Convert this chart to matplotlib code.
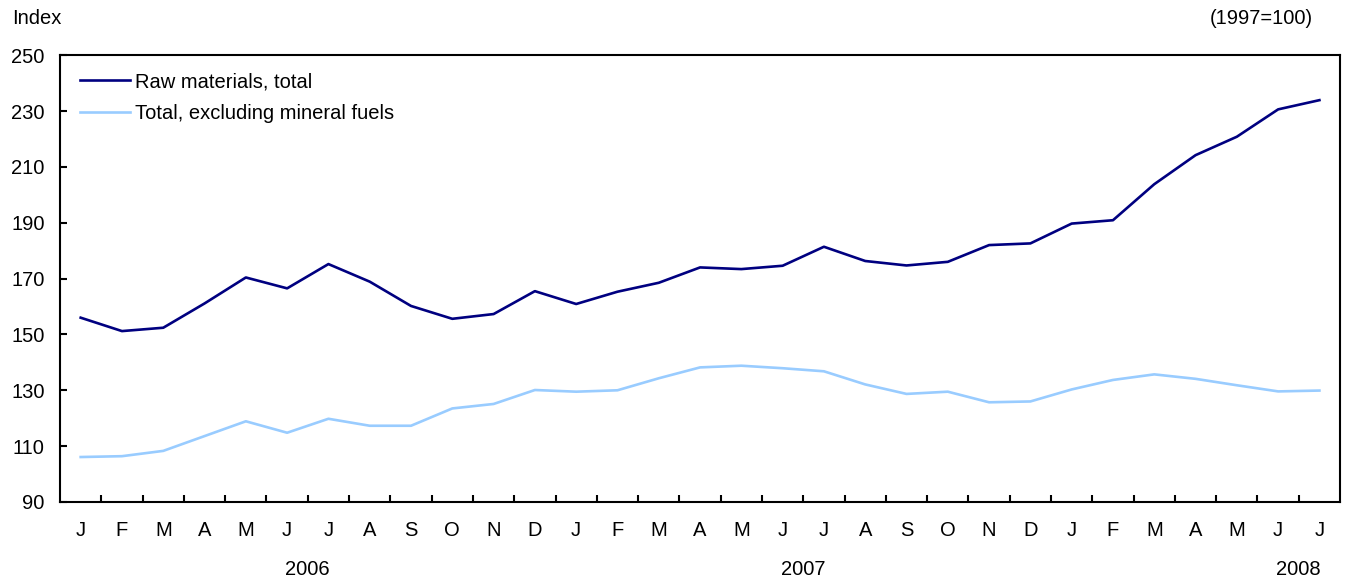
import matplotlib
matplotlib.use("Agg")
import matplotlib.pyplot as plt
import matplotlib.transforms as mtransforms

plt.rcParams['font.family'] = ['Liberation Sans', 'DejaVu Sans']

# Dados (índice 1997=100), jan/2006 a jul/2008
meses = ["J", "F", "M", "A", "M", "J", "J", "A", "S", "O", "N", "D",
         "J", "F", "M", "A", "M", "J", "J", "A", "S", "O", "N", "D",
         "J", "F", "M", "A", "M", "J", "J"]
anos = ["2006", "2007", "2008"]
pos_anos = [5.5, 17.5, 29.5]

materias_primas = [156.0, 151.2, 152.4, 161.1, 170.4, 166.5, 175.2, 168.9, 160.2, 155.6, 157.3, 165.5,
                   160.9, 165.3, 168.5, 174.0, 173.4, 174.6, 181.4, 176.3, 174.7, 176.0, 182.0, 182.6,
                   189.7, 190.9, 203.8, 214.2, 220.8, 230.6, 233.9]
sem_combustiveis = [106.1, 106.4, 108.3, 113.6, 118.9, 114.8, 119.8, 117.3, 117.3, 123.5, 125.1, 130.1,
                    129.5, 130.0, 134.3, 138.2, 138.8, 137.9, 136.8, 132.1, 128.7, 129.5, 125.7, 126.0,
                    130.3, 133.7, 135.7, 134.1, 131.8, 129.6, 129.9]

fs = 14.5

fig = plt.figure(figsize=(13.46, 5.81), dpi=100)
ax = fig.add_axes([0.0446, 0.136, 0.951, 0.769])

x = list(range(len(meses)))
ax.plot(x, materias_primas, color="#000080", linewidth=1.9, label="Raw materials, total")
ax.plot(x, sem_combustiveis, color="#99ccff", linewidth=1.9, label="Total, excluding mineral fuels")

ax.set_xlim(-0.5, len(meses) - 0.5)
ax.set_ylim(90, 250)
ax.set_yticks(range(90, 251, 20))

# marcas entre os meses, rótulos no centro
ax.set_xticks([i + 0.5 for i in range(len(meses) - 1)])
ax.set_xticklabels([])
ax.set_xticks(x, minor=True)
ax.set_xticklabels(meses, minor=True)
ax.tick_params(axis="x", which="major", direction="in", length=5, width=1.5)
ax.tick_params(axis="x", which="minor", length=0, pad=14, labelsize=fs)
ax.tick_params(axis="y", direction="in", length=5, width=1.5, pad=11, labelsize=fs)

for s in ax.spines.values():
    s.set_linewidth(1.5)

trans = mtransforms.blended_transform_factory(ax.transData, ax.transAxes)
for p, a in zip(pos_anos, anos):
    ax.text(p, -0.152, a, transform=trans, ha="center", va="center", fontsize=fs)

fig.text(12 / 1346, 1 - 18 / 581, "Index", ha="left", va="center", fontsize=fs)
fig.text(1313 / 1346, 1 - 18 / 581, "(1997=100)", ha="right", va="center", fontsize=fs)

ax.legend(loc="upper left", frameon=False, fontsize=fs, handlelength=2.5,
          handletextpad=0.25, labelspacing=0.65, borderaxespad=0.0,
          bbox_to_anchor=(0.009, 0.98))

fig.savefig("out.png", dpi=100)
